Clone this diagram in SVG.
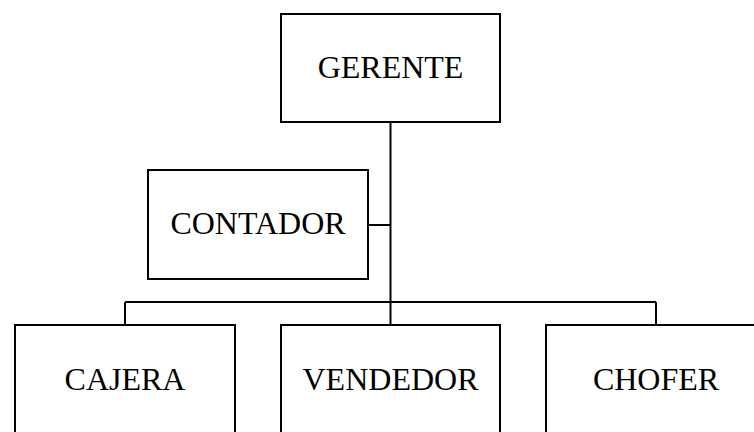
<svg xmlns="http://www.w3.org/2000/svg" width="754" height="432" viewBox="0 0 754 432">
<style>
.box{fill:#fff;stroke:#000;stroke-width:2}
.lbl{font-family:"Liberation Serif","Times New Roman",serif;font-size:32px;fill:#000;text-anchor:middle}
.con{fill:none;stroke:#000;stroke-width:2}
</style>
<rect width="754" height="432" fill="#fff"/>
<g id="connectors">
<path class="con" d="M390.5,122 V302 M368,225 H390.5 M125,302 H656 M125,302 V325 M390.5,302 V325 M656,302 V325"/>
</g>
<g id="gerente"><rect class="box" x="281" y="14" width="219" height="108"/><text class="lbl" x="390.5" y="78">GERENTE</text></g>
<g id="contador"><rect class="box" x="148" y="170" width="220" height="109"/><text class="lbl" x="258" y="234">CONTADOR</text></g>
<g id="cajera"><rect class="box" x="15" y="325" width="220" height="120"/><text class="lbl" x="125" y="390">CAJERA</text></g>
<g id="vendedor"><rect class="box" x="281" y="325" width="219" height="120"/><text class="lbl" x="390.5" y="390">VENDEDOR</text></g>
<g id="chofer"><rect class="box" x="546" y="325" width="220" height="120"/><text class="lbl" x="656" y="390">CHOFER</text></g>
</svg>
